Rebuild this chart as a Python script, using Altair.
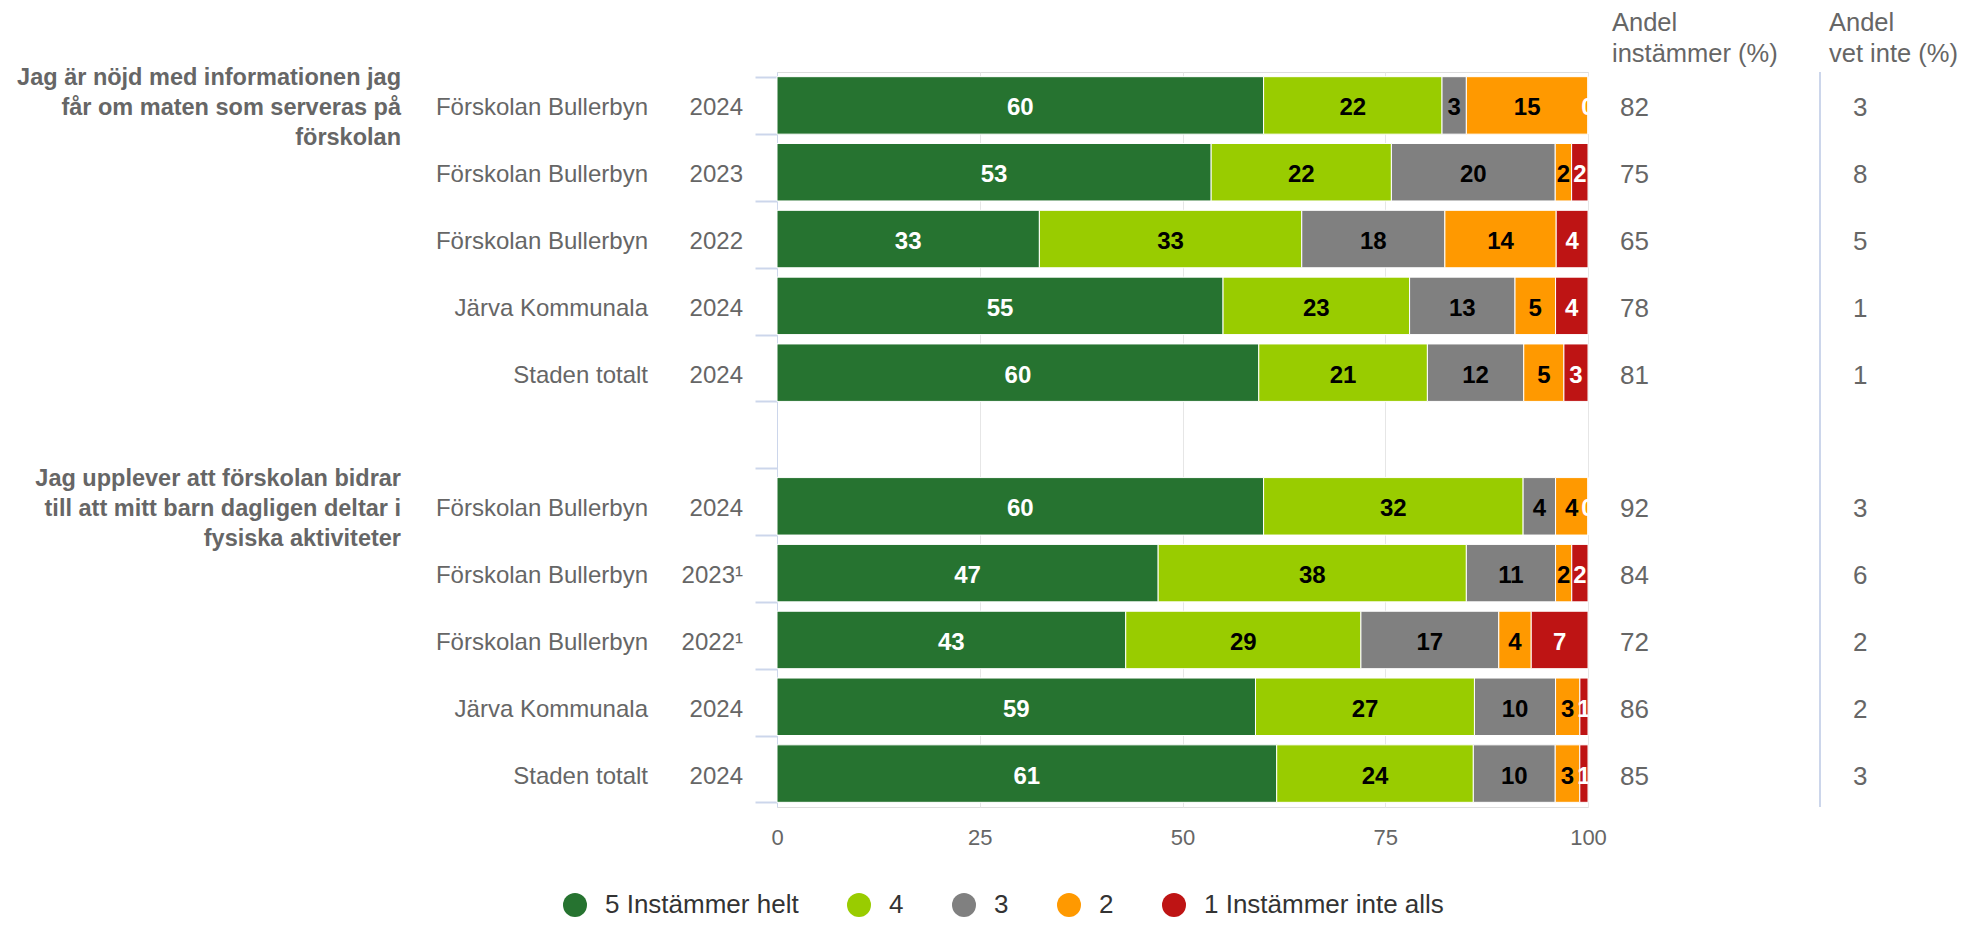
import altair as alt
import pandas as pd

FONT = "Liberation Sans"

# ---------------- data ----------------
questions = [
    "Jag är nöjd med informationen jag\nfår om maten som serveras på\nförskolan",
    "Jag upplever att förskolan bidrar\ntill att mitt barn dagligen deltar i\nfysiska aktiviteter",
]
units = ["Förskolan Bullerbyn", "Förskolan Bullerbyn", "Förskolan Bullerbyn", "Järva Kommunala", "Staden totalt",
         "Förskolan Bullerbyn", "Förskolan Bullerbyn", "Förskolan Bullerbyn", "Järva Kommunala", "Staden totalt"]
years = ["2024", "2023", "2022", "2024", "2024",
         "2024", "2023¹", "2022¹", "2024", "2024"]
cat_labels = ["5 Instämmer helt", "4", "3", "2", "1 Instämmer inte alls"]
colors = ["#267330", "#99cc00", "#808080", "#ff9900", "#be1414"]
s5 = [60, 53, 33, 55, 60, 60, 47, 43, 59, 61]
s4 = [22, 22, 33, 23, 21, 32, 38, 29, 27, 24]
s3 = [3, 20, 18, 13, 12, 4, 11, 17, 10, 10]
s2 = [15, 2, 14, 5, 5, 4, 2, 4, 3, 3]
s1 = [0, 2, 4, 4, 3, 0, 2, 7, 1, 1]
andel_instammer = [82, 75, 65, 78, 81, 92, 84, 72, 86, 85]
andel_vet_inte = [3, 8, 5, 1, 1, 3, 6, 2, 2, 3]
headers = ["Andel\ninstämmer (%)", "Andel\nvet inte (%)"]
x_ticks = [0, 25, 50, 75, 100]

row_ids = ["A1", "A2", "A3", "A4", "A5", "gap", "B1", "B2", "B3", "B4", "B5"]
data_rows = [r for r in row_ids if r != "gap"]
series = [s5, s4, s3, s2, s1]

long_records = []
for i, rid in enumerate(data_rows):
    for k in range(5):
        long_records.append({"row": rid, "cat": cat_labels[k], "ord": k, "val": series[k][i]})
df_long = pd.DataFrame(long_records)

rows_df = pd.DataFrame({"row": data_rows, "name": units, "year": years,
                        "agree": andel_instammer, "dk": andel_vet_inte})
q_df = pd.DataFrame({"row": ["A1", "B1"], "q": questions})
one = pd.DataFrame({"a": [0]})

# ---------------- encodings ----------------
yscale = alt.Scale(domain=row_ids, paddingInner=0.14, paddingOuter=0.07)
yaxis = alt.Axis(labels=False, title=None, tickBand="extent", tickSize=22, tickColor="#ccd6eb",
                 tickWidth=2, domainColor="#ccd6eb", domainWidth=1, grid=False)


def y_enc():
    return alt.Y("row:N", scale=yscale, axis=yaxis)


xscale = alt.Scale(domain=[0, 100], nice=False, zero=True)
xaxis = alt.Axis(values=x_ticks, grid=True, gridColor="#e6e6e6", gridWidth=1, domain=False, ticks=False,
                 labelFontSize=22, labelColor="#666666", labelFont=FONT, labelPadding=20,
                 labelFlush=False, title=None)

base = (
    alt.Chart(df_long)
    .transform_joinaggregate(total="sum(val)", groupby=["row"])
    .transform_calculate(pct="datum.val / datum.total * 100")
    .transform_stack(stack="pct", groupby=["row"], as_=["x0", "x1"],
                     sort=[alt.SortField("ord", order="ascending")])
    .transform_calculate(mid="(datum.x0 + datum.x1) / 2")
)

bars = base.mark_bar(stroke="white", strokeWidth=1).encode(
    x=alt.X("x0:Q", scale=xscale, axis=xaxis),
    x2="x1:Q",
    y=y_enc(),
    color=alt.Color(
        "cat:N",
        scale=alt.Scale(domain=cat_labels, range=colors),
        legend=alt.Legend(orient="none", legendX=-215, legendY=820, direction="horizontal",
                          title=None, symbolType="circle", symbolSize=576, symbolStrokeWidth=0,
                          symbolOpacity=1, labelFontSize=26, labelColor="#333333", labelFont=FONT,
                          labelOffset=17, columnPadding=47, labelLimit=0),
    ),
)

labels = base.mark_text(fontSize=24, fontWeight="bold", font=FONT, baseline="middle", clip=True, dy=3).encode(
    x=alt.X("mid:Q", scale=xscale, axis=xaxis),
    y=y_enc(),
    text=alt.Text("val:Q"),
    color=alt.condition("datum.ord == 0 || datum.ord == 4", alt.value("#ffffff"), alt.value("#000000")),
)

titles = alt.Chart(q_df).mark_text(align="right", baseline="middle", lineBreak="\n", lineHeight=30,
                                   fontSize=23.5, fontWeight="bold", font=FONT, color="#666666",
                                   dy=-27).encode(
    x=alt.value(-376), y=y_enc(), text="q:N")

names = alt.Chart(rows_df).mark_text(align="right", baseline="middle", fontSize=24, font=FONT,
                                     color="#666666", dy=3).encode(
    x=alt.value(-129), y=y_enc(), text="name:N")

yrs = alt.Chart(rows_df).mark_text(align="right", baseline="middle", fontSize=24, font=FONT,
                                   color="#666666", dy=3).encode(
    x=alt.value(-34), y=y_enc(), text="year:N")

vals1 = alt.Chart(rows_df).mark_text(align="left", baseline="middle", fontSize=26, font=FONT,
                                     color="#666666", dy=3).encode(
    x=alt.value(843), y=y_enc(), text="agree:Q")

vals2 = alt.Chart(rows_df).mark_text(align="left", baseline="middle", fontSize=26, font=FONT,
                                     color="#666666", dy=3).encode(
    x=alt.value(1076), y=y_enc(), text="dk:Q")

head1 = alt.Chart(one).mark_text(align="left", baseline="alphabetic", lineBreak="\n", lineHeight=31,
                                 fontSize=25.5, font=FONT, color="#666666").encode(
    x=alt.value(835), y=alt.value(-41), text=alt.value(headers[0]))

head2 = alt.Chart(one).mark_text(align="left", baseline="alphabetic", lineBreak="\n", lineHeight=31,
                                 fontSize=25.5, font=FONT, color="#666666").encode(
    x=alt.value(1052), y=alt.value(-41), text=alt.value(headers[1]))

sep = alt.Chart(one).mark_rule(color="#ccd6eb", strokeWidth=2).encode(
    x=alt.value(1043), y=alt.value(0), y2=alt.value(735))

chart = (
    alt.layer(bars, labels, titles, names, yrs, vals1, vals2, head1, head2, sep)
    .properties(width=811, height=735,
                padding={"left": 769, "top": 64, "right": 374, "bottom": 113},
                autosize=alt.AutoSizeParams(type="none"))
    .configure_view(stroke=None)
    .configure(background="white")
)

chart.save("out.html", embed_options={"renderer": "svg", "actions": False})
